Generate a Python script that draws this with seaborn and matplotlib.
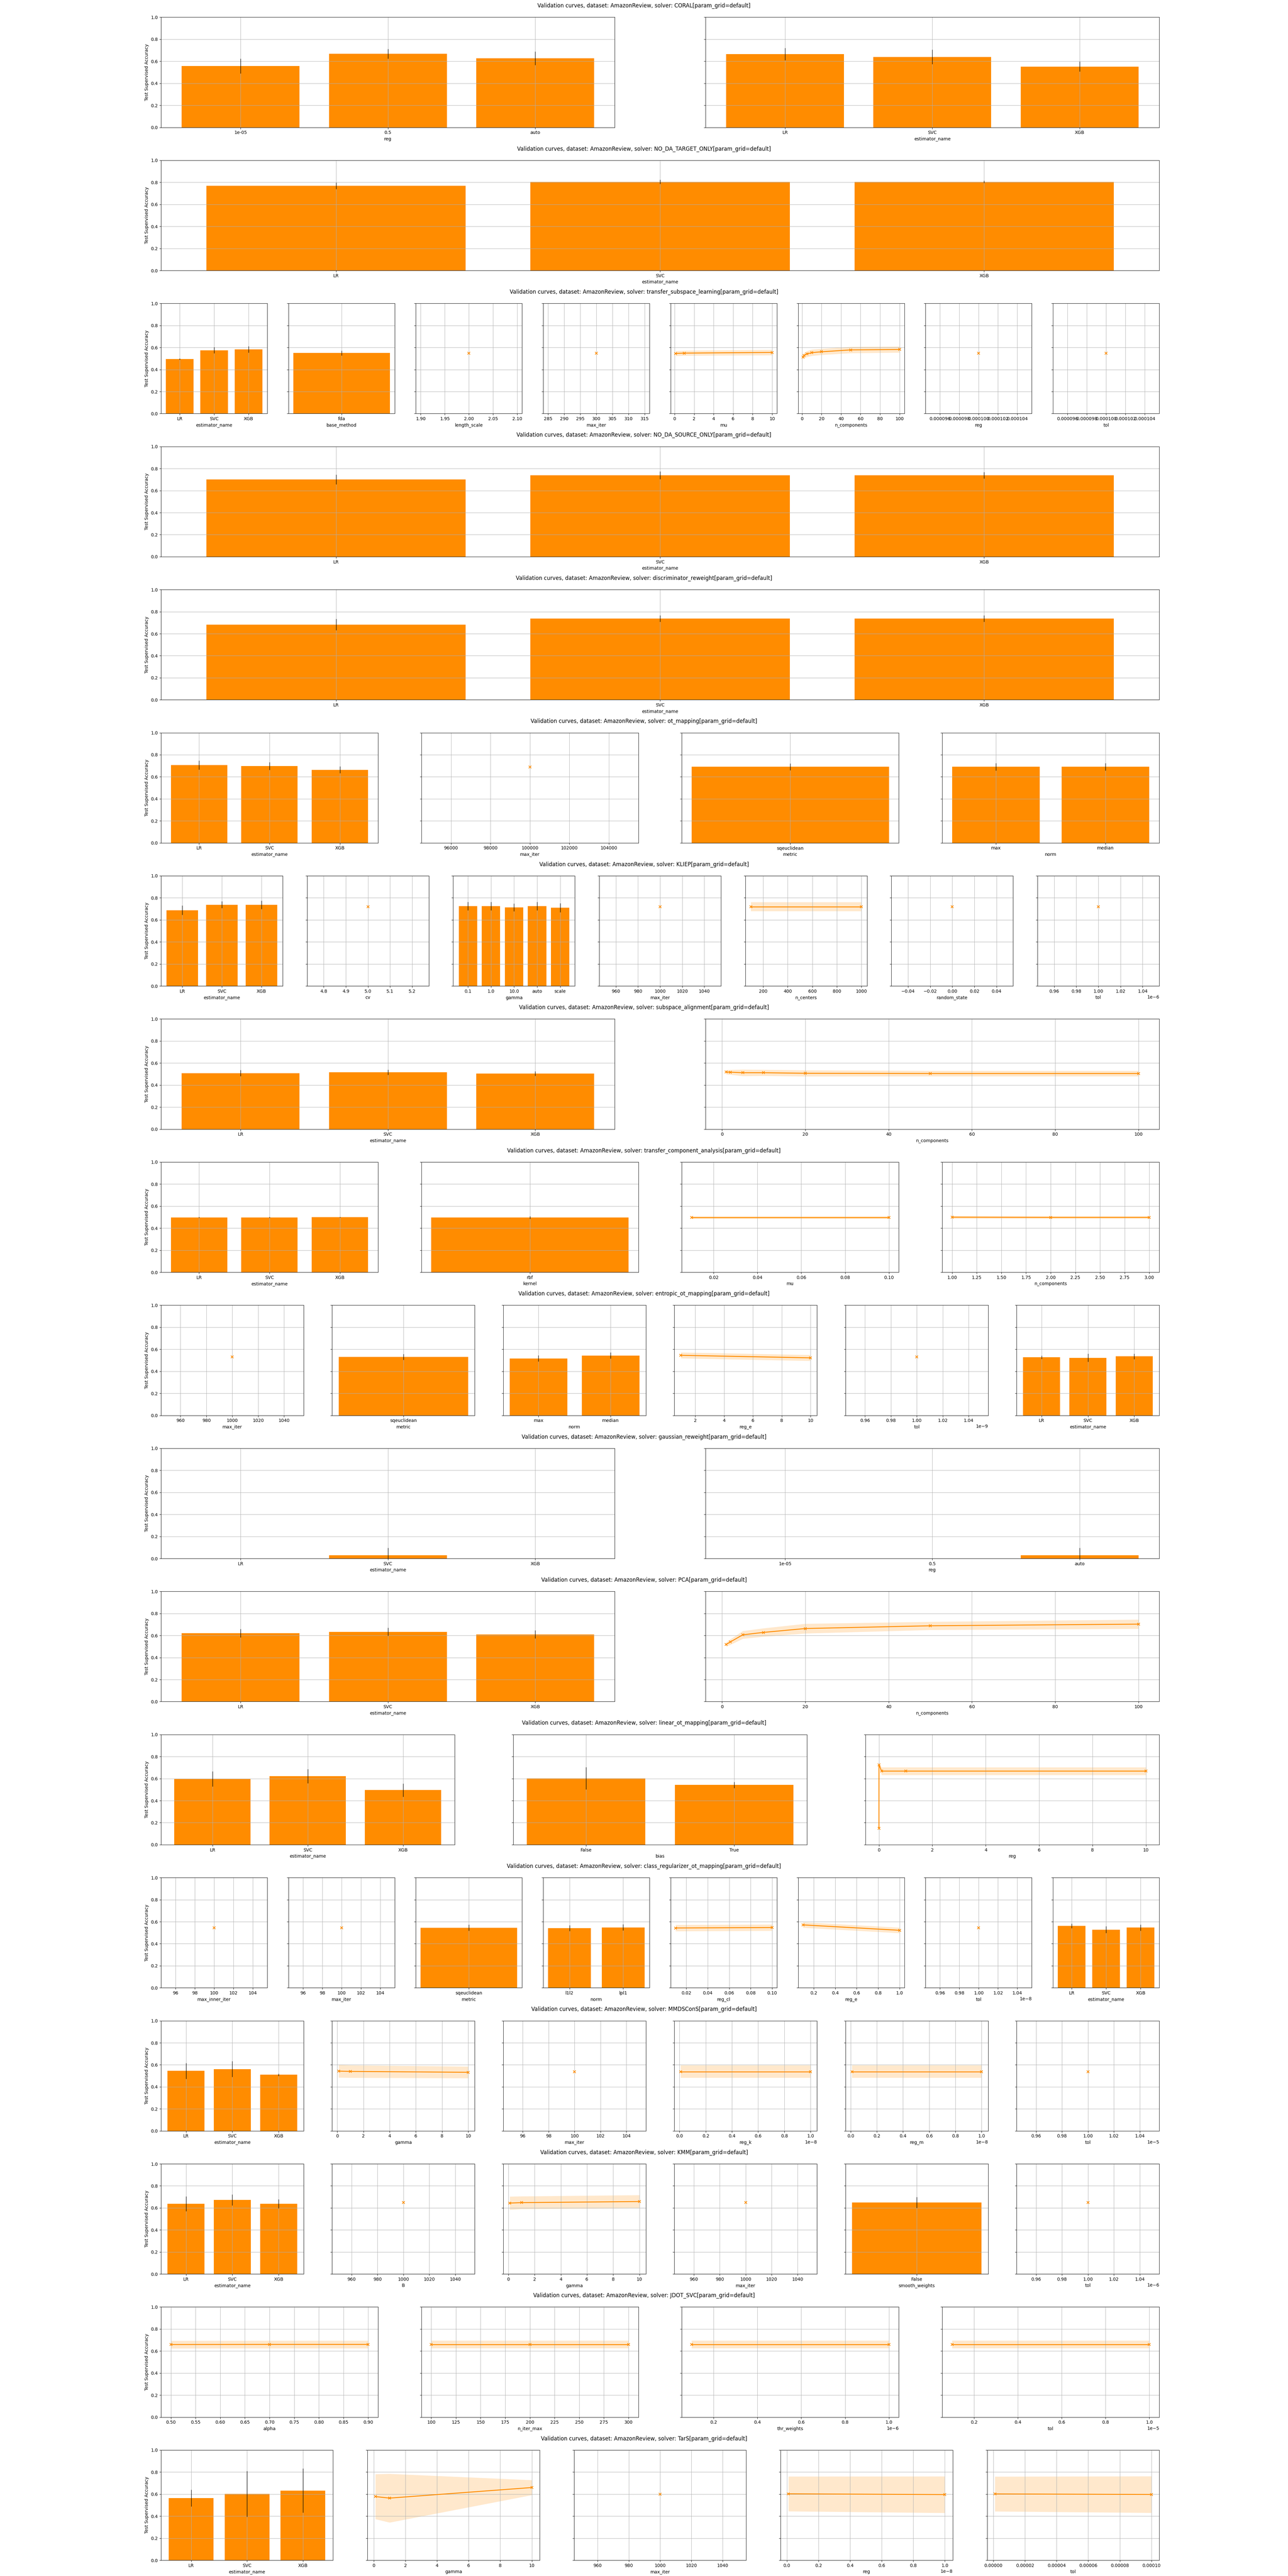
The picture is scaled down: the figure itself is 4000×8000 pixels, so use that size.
import numpy as np
import matplotlib
matplotlib.use("Agg")
import matplotlib.pyplot as plt
import seaborn as sns

# ==========================================
# 1. DATA
# ==========================================
DATASET = "AmazonReview"
YLABEL = "Test Supervised Accuracy"
ORANGE = "darkorange"
ESTIMATORS = ["LR", "SVC", "XGB"]

# --- CORAL
coral_reg = ["1e-05", "0.5", "auto"]
coral_reg_mean = [0.557, 0.668, 0.627]
coral_reg_std = [0.067, 0.044, 0.061]
coral_est_mean = [0.664, 0.639, 0.552]
coral_est_std = [0.056, 0.066, 0.046]

# --- NO_DA_TARGET_ONLY
target_est_mean = [0.768, 0.805, 0.805]
target_est_std = [0.03, 0.02, 0.01]

# --- transfer_subspace_learning
tsl_est_mean = [0.495, 0.575, 0.583]
tsl_est_std = [0.007, 0.027, 0.028]
tsl_base_method = ["fda"]
tsl_base_mean = [0.550]
tsl_base_std = [0.022]
tsl_length_scale = [2.0]
tsl_length_mean = [0.549]
tsl_max_iter = [300]
tsl_max_iter_mean = [0.549]
tsl_mu = [0.1, 1, 10]
tsl_mu_mean = [0.546, 0.549, 0.555]
tsl_mu_std = [0.023, 0.023, 0.025]
tsl_ncomp = [1, 2, 5, 10, 20, 50, 100]
tsl_ncomp_mean = [0.512, 0.528, 0.541, 0.553, 0.561, 0.578, 0.582]
tsl_ncomp_std = [0.018, 0.024, 0.027, 0.029, 0.028, 0.029, 0.028]
tsl_reg = [0.0001]
tsl_reg_mean = [0.549]
tsl_tol = [0.0001]
tsl_tol_mean = [0.549]

# --- NO_DA_SOURCE_ONLY
source_est_mean = [0.701, 0.739, 0.739]
source_est_std = [0.045, 0.035, 0.03]

# --- discriminator_reweight
disc_est_mean = [0.683, 0.738, 0.738]
disc_est_std = [0.05, 0.03, 0.03]

# --- ot_mapping
ot_est_mean = [0.706, 0.699, 0.664]
ot_est_std = [0.04, 0.035, 0.03]
ot_max_iter = [100000]
ot_max_iter_mean = [0.689]
ot_metric = ["sqeuclidean"]
ot_metric_mean = [0.691]
ot_metric_std = [0.03]
ot_norm = ["max", "median"]
ot_norm_mean = [0.691, 0.691]
ot_norm_std = [0.034, 0.034]

# --- KLIEP
kliep_est_mean = [0.688, 0.738, 0.738]
kliep_est_std = [0.043, 0.03, 0.038]
kliep_cv = [5]
kliep_cv_mean = [0.719]
kliep_gamma = ["0.1", "1.0", "10.0", "auto", "scale"]
kliep_gamma_mean = [0.725, 0.725, 0.714, 0.725, 0.711]
kliep_gamma_std = [0.038, 0.038, 0.035, 0.038, 0.04]
kliep_max_iter = [1000]
kliep_max_iter_mean = [0.719]
kliep_centers = [100, 1000]
kliep_centers_mean = [0.719, 0.719]
kliep_centers_std = [0.041, 0.041]
kliep_random_state = [0]
kliep_random_state_mean = [0.719]
kliep_tol = [1e-6]
kliep_tol_mean = [0.719]

# --- subspace_alignment
sa_est_mean = [0.508, 0.517, 0.505]
sa_est_std = [0.028, 0.024, 0.02]
sa_ncomp = [1, 2, 5, 10, 20, 50, 100]
sa_ncomp_mean = [0.518, 0.517, 0.512, 0.512, 0.507, 0.505, 0.505]
sa_ncomp_std = [0.02, 0.022, 0.03, 0.028, 0.028, 0.025, 0.025]

# --- transfer_component_analysis
tca_est_mean = [0.498, 0.498, 0.500]
tca_est_std = [0.005, 0.004, 0.004]
tca_kernel = ["rbf"]
tca_kernel_mean = [0.498]
tca_kernel_std = [0.012]
tca_mu = [0.01, 0.1]
tca_mu_mean = [0.498, 0.498]
tca_mu_std = [0.012, 0.012]
tca_ncomp = [1, 2, 3]
tca_ncomp_mean = [0.500, 0.498, 0.498]
tca_ncomp_std = [0.013, 0.012, 0.012]

# --- entropic_ot_mapping
eot_max_iter = [1000]
eot_max_iter_mean = [0.530]
eot_metric = ["sqeuclidean"]
eot_metric_mean = [0.531]
eot_metric_std = [0.027]
eot_norm = ["max", "median"]
eot_norm_mean = [0.517, 0.543]
eot_norm_std = [0.027, 0.028]
eot_reg_e = [1, 10]
eot_reg_e_mean = [0.545, 0.522]
eot_reg_e_std = [0.027, 0.027]
eot_tol = [1e-9]
eot_tol_mean = [0.530]
eot_est_mean = [0.528, 0.523, 0.536]
eot_est_std = [0.015, 0.037, 0.025]

# --- gaussian_reweight
gr_est_mean = [0.0, 0.03, 0.0]
gr_est_std = [0.0, 0.066, 0.0]
gr_reg = ["1e-05", "0.5", "auto"]
gr_reg_mean = [0.0, 0.0, 0.03]
gr_reg_std = [0.0, 0.0, 0.066]

# --- PCA
pca_est_mean = [0.621, 0.633, 0.610]
pca_est_std = [0.039, 0.037, 0.036]
pca_ncomp = [1, 2, 5, 10, 20, 50, 100]
pca_ncomp_mean = [0.518, 0.541, 0.606, 0.628, 0.663, 0.688, 0.703]
pca_ncomp_std = [0.019, 0.025, 0.035, 0.038, 0.044, 0.037, 0.042]

# --- linear_ot_mapping
lot_est_mean = [0.598, 0.623, 0.495]
lot_est_std = [0.068, 0.064, 0.061]
lot_bias = ["False", "True"]
lot_bias_mean = [0.603, 0.542]
lot_bias_std = [0.1, 0.028]
lot_reg = [1e-05, 0.001, 0.1, 1, 10]
lot_reg_mean = [0.15, 0.725, 0.668, 0.668, 0.668]
lot_reg_std = [0.01, 0.01, 0.035, 0.035, 0.035]

# --- class_regularizer_ot_mapping
cr_max_inner_iter = [100]
cr_max_inner_iter_mean = [0.545]
cr_max_iter = [100]
cr_max_iter_mean = [0.545]
cr_metric = ["sqeuclidean"]
cr_metric_mean = [0.545]
cr_metric_std = [0.028]
cr_norm = ["l1l2", "lpl1"]
cr_norm_mean = [0.541, 0.548]
cr_norm_std = [0.027, 0.028]
cr_reg_cl = [0.01, 0.1]
cr_reg_cl_mean = [0.543, 0.547]
cr_reg_cl_std = [0.029, 0.029]
cr_reg_e = [0.1, 1.0]
cr_reg_e_mean = [0.571, 0.522]
cr_reg_e_std = [0.025, 0.025]
cr_tol = [1e-8]
cr_tol_mean = [0.545]
cr_est_mean = [0.563, 0.528, 0.546]
cr_est_std = [0.02, 0.03, 0.028]

# --- MMDSConS
mmd_est_mean = [0.545, 0.561, 0.510]
mmd_est_std = [0.072, 0.072, 0.01]
mmd_gamma = [0.1, 1, 10]
mmd_gamma_mean = [0.543, 0.540, 0.532]
mmd_gamma_std = [0.058, 0.057, 0.053]
mmd_max_iter = [100]
mmd_max_iter_mean = [0.537]
mmd_reg_k = [1e-10, 1e-8]
mmd_reg_k_mean = [0.538, 0.538]
mmd_reg_k_std = [0.057, 0.057]
mmd_reg_m = [1e-10, 1e-8]
mmd_reg_m_mean = [0.538, 0.538]
mmd_reg_m_std = [0.057, 0.057]
mmd_tol = [1e-5]
mmd_tol_mean = [0.538]

# --- KMM
kmm_est_mean = [0.638, 0.673, 0.638]
kmm_est_std = [0.067, 0.05, 0.04]
kmm_B = [1000]
kmm_B_mean = [0.650]
kmm_gamma = [0.1, 1, 10]
kmm_gamma_mean = [0.644, 0.648, 0.658]
kmm_gamma_std = [0.06, 0.058, 0.059]
kmm_max_iter = [1000]
kmm_max_iter_mean = [0.650]
kmm_smooth = ["False"]
kmm_smooth_mean = [0.650]
kmm_smooth_std = [0.05]
kmm_tol = [1e-6]
kmm_tol_mean = [0.650]

# --- JDOT_SVC
jdot_alpha = [0.5, 0.7, 0.9]
jdot_alpha_mean = [0.659, 0.660, 0.660]
jdot_alpha_std = [0.035, 0.035, 0.035]
jdot_n_iter = [100, 200, 300]
jdot_n_iter_mean = [0.660, 0.660, 0.660]
jdot_n_iter_std = [0.035, 0.035, 0.035]
jdot_thr = [1e-7, 1e-6]
jdot_thr_mean = [0.660, 0.660]
jdot_thr_std = [0.035, 0.035]
jdot_tol = [1e-6, 1e-5]
jdot_tol_mean = [0.660, 0.660]
jdot_tol_std = [0.035, 0.035]

# --- TarS
tars_est_mean = [0.564, 0.603, 0.632]
tars_est_std = [0.077, 0.208, 0.2]
tars_gamma = [0.1, 1, 10]
tars_gamma_mean = [0.578, 0.564, 0.660]
tars_gamma_std = [0.204, 0.221, 0.068]
tars_max_iter = [1000]
tars_max_iter_mean = [0.599]
tars_reg = [1e-10, 1e-8]
tars_reg_mean = [0.603, 0.596]
tars_reg_std = [0.158, 0.166]
tars_tol = [1e-6, 1e-4]
tars_tol_mean = [0.602, 0.597]
tars_tol_std = [0.158, 0.166]

# ==========================================
# 2. LAYOUT: one row (subfigure) per solver
# ==========================================
rows = [
    ("CORAL", [
        ("bar", "reg", coral_reg, coral_reg_mean, coral_reg_std),
        ("bar", "estimator_name", ESTIMATORS, coral_est_mean, coral_est_std),
    ]),
    ("NO_DA_TARGET_ONLY", [
        ("bar", "estimator_name", ESTIMATORS, target_est_mean, target_est_std),
    ]),
    ("transfer_subspace_learning", [
        ("bar", "estimator_name", ESTIMATORS, tsl_est_mean, tsl_est_std),
        ("bar", "base_method", tsl_base_method, tsl_base_mean, tsl_base_std),
        ("line", "length_scale", tsl_length_scale, tsl_length_mean, None),
        ("line", "max_iter", tsl_max_iter, tsl_max_iter_mean, None),
        ("line", "mu", tsl_mu, tsl_mu_mean, tsl_mu_std),
        ("line", "n_components", tsl_ncomp, tsl_ncomp_mean, tsl_ncomp_std),
        ("line", "reg", tsl_reg, tsl_reg_mean, None),
        ("line", "tol", tsl_tol, tsl_tol_mean, None),
    ]),
    ("NO_DA_SOURCE_ONLY", [
        ("bar", "estimator_name", ESTIMATORS, source_est_mean, source_est_std),
    ]),
    ("discriminator_reweight", [
        ("bar", "estimator_name", ESTIMATORS, disc_est_mean, disc_est_std),
    ]),
    ("ot_mapping", [
        ("bar", "estimator_name", ESTIMATORS, ot_est_mean, ot_est_std),
        ("line", "max_iter", ot_max_iter, ot_max_iter_mean, None),
        ("bar", "metric", ot_metric, ot_metric_mean, ot_metric_std),
        ("bar", "norm", ot_norm, ot_norm_mean, ot_norm_std),
    ]),
    ("KLIEP", [
        ("bar", "estimator_name", ESTIMATORS, kliep_est_mean, kliep_est_std),
        ("line", "cv", kliep_cv, kliep_cv_mean, None),
        ("bar", "gamma", kliep_gamma, kliep_gamma_mean, kliep_gamma_std),
        ("line", "max_iter", kliep_max_iter, kliep_max_iter_mean, None),
        ("line", "n_centers", kliep_centers, kliep_centers_mean, kliep_centers_std),
        ("line", "random_state", kliep_random_state, kliep_random_state_mean, None),
        ("line", "tol", kliep_tol, kliep_tol_mean, None),
    ]),
    ("subspace_alignment", [
        ("bar", "estimator_name", ESTIMATORS, sa_est_mean, sa_est_std),
        ("line", "n_components", sa_ncomp, sa_ncomp_mean, sa_ncomp_std),
    ]),
    ("transfer_component_analysis", [
        ("bar", "estimator_name", ESTIMATORS, tca_est_mean, tca_est_std),
        ("bar", "kernel", tca_kernel, tca_kernel_mean, tca_kernel_std),
        ("line", "mu", tca_mu, tca_mu_mean, tca_mu_std),
        ("line", "n_components", tca_ncomp, tca_ncomp_mean, tca_ncomp_std),
    ]),
    ("entropic_ot_mapping", [
        ("line", "max_iter", eot_max_iter, eot_max_iter_mean, None),
        ("bar", "metric", eot_metric, eot_metric_mean, eot_metric_std),
        ("bar", "norm", eot_norm, eot_norm_mean, eot_norm_std),
        ("line", "reg_e", eot_reg_e, eot_reg_e_mean, eot_reg_e_std),
        ("line", "tol", eot_tol, eot_tol_mean, None),
        ("bar", "estimator_name", ESTIMATORS, eot_est_mean, eot_est_std),
    ]),
    ("gaussian_reweight", [
        ("bar", "estimator_name", ESTIMATORS, gr_est_mean, gr_est_std),
        ("bar", "reg", gr_reg, gr_reg_mean, gr_reg_std),
    ]),
    ("PCA", [
        ("bar", "estimator_name", ESTIMATORS, pca_est_mean, pca_est_std),
        ("line", "n_components", pca_ncomp, pca_ncomp_mean, pca_ncomp_std),
    ]),
    ("linear_ot_mapping", [
        ("bar", "estimator_name", ESTIMATORS, lot_est_mean, lot_est_std),
        ("bar", "bias", lot_bias, lot_bias_mean, lot_bias_std),
        ("line", "reg", lot_reg, lot_reg_mean, lot_reg_std),
    ]),
    ("class_regularizer_ot_mapping", [
        ("line", "max_inner_iter", cr_max_inner_iter, cr_max_inner_iter_mean, None),
        ("line", "max_iter", cr_max_iter, cr_max_iter_mean, None),
        ("bar", "metric", cr_metric, cr_metric_mean, cr_metric_std),
        ("bar", "norm", cr_norm, cr_norm_mean, cr_norm_std),
        ("line", "reg_cl", cr_reg_cl, cr_reg_cl_mean, cr_reg_cl_std),
        ("line", "reg_e", cr_reg_e, cr_reg_e_mean, cr_reg_e_std),
        ("line", "tol", cr_tol, cr_tol_mean, None),
        ("bar", "estimator_name", ESTIMATORS, cr_est_mean, cr_est_std),
    ]),
    ("MMDSConS", [
        ("bar", "estimator_name", ESTIMATORS, mmd_est_mean, mmd_est_std),
        ("line", "gamma", mmd_gamma, mmd_gamma_mean, mmd_gamma_std),
        ("line", "max_iter", mmd_max_iter, mmd_max_iter_mean, None),
        ("line", "reg_k", mmd_reg_k, mmd_reg_k_mean, mmd_reg_k_std),
        ("line", "reg_m", mmd_reg_m, mmd_reg_m_mean, mmd_reg_m_std),
        ("line", "tol", mmd_tol, mmd_tol_mean, None),
    ]),
    ("KMM", [
        ("bar", "estimator_name", ESTIMATORS, kmm_est_mean, kmm_est_std),
        ("line", "B", kmm_B, kmm_B_mean, None),
        ("line", "gamma", kmm_gamma, kmm_gamma_mean, kmm_gamma_std),
        ("line", "max_iter", kmm_max_iter, kmm_max_iter_mean, None),
        ("bar", "smooth_weights", kmm_smooth, kmm_smooth_mean, kmm_smooth_std),
        ("line", "tol", kmm_tol, kmm_tol_mean, None),
    ]),
    ("JDOT_SVC", [
        ("line", "alpha", jdot_alpha, jdot_alpha_mean, jdot_alpha_std),
        ("line", "n_iter_max", jdot_n_iter, jdot_n_iter_mean, jdot_n_iter_std),
        ("line", "thr_weights", jdot_thr, jdot_thr_mean, jdot_thr_std),
        ("line", "tol", jdot_tol, jdot_tol_mean, jdot_tol_std),
    ]),
    ("TarS", [
        ("bar", "estimator_name", ESTIMATORS, tars_est_mean, tars_est_std),
        ("line", "gamma", tars_gamma, tars_gamma_mean, tars_gamma_std),
        ("line", "max_iter", tars_max_iter, tars_max_iter_mean, None),
        ("line", "reg", tars_reg, tars_reg_mean, tars_reg_std),
        ("line", "tol", tars_tol, tars_tol_mean, tars_tol_std),
    ]),
]

# ==========================================
# 3. PLOT
# ==========================================
fig = plt.figure(figsize=(40, 80), dpi=100)
subfigs = fig.subfigures(len(rows), 1)

for subfig, (solver, panels) in zip(subfigs, rows):
    axs = subfig.subplots(1, len(panels), sharey=True, squeeze=False)[0]
    for ax, (kind, name, x, mean, std) in zip(axs, panels):
        if kind == "bar":
            sns.barplot(x=x, y=mean, color=ORANGE, saturation=1, errorbar=None, ax=ax)
            ax.errorbar(np.arange(len(x)), mean, yerr=std, fmt="none",
                        ecolor="black", elinewidth=1)
            # seaborn pins the categorical limits; go back to plain margins
            ax.autoscale(axis="x")
        else:
            sns.lineplot(x=x, y=mean, color=ORANGE, marker="x", linewidth=2,
                         markeredgecolor=ORANGE, markeredgewidth=1.5, ax=ax)
            if std is not None:
                lo = np.array(mean) - np.array(std)
                hi = np.array(mean) + np.array(std)
                ax.fill_between(x, lo, hi, color=ORANGE, alpha=0.2, linewidth=0)
        ax.set_xlabel(name)
        ax.set_ylabel("")
        ax.grid(True)
    axs[0].set_ylabel(YLABEL)
    axs[0].set_ylim(0, 1)
    subfig.suptitle(f"Validation curves, dataset: {DATASET}, solver: {solver}[param_grid=default]")

fig.savefig("out.png")
